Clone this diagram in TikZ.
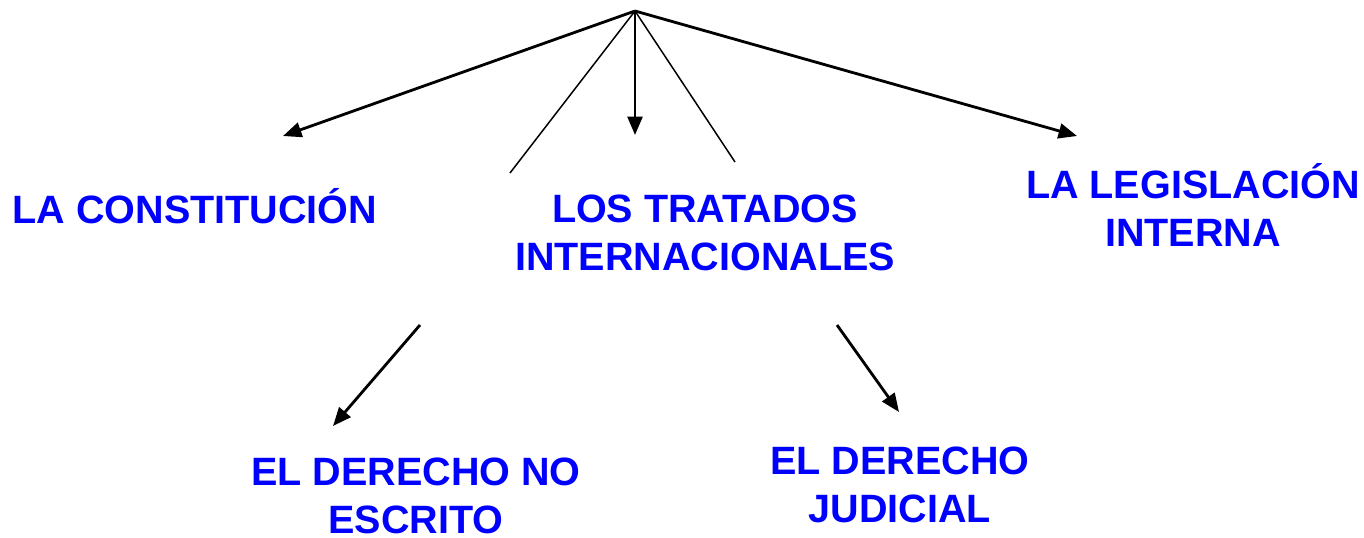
\documentclass[tikz,border=0pt]{standalone}
\usepackage{fontspec}
\setmainfont{Liberation Sans}
\usepackage{xcolor}
\usetikzlibrary{arrows.meta}
\definecolor{blue}{rgb}{0,0,1}

\begin{document}
\begin{tikzpicture}[x=0.02cm, y=-0.02cm,
  term/.style={text=blue, font=\fontsize{22.5}{27.3}\selectfont\bfseries, align=center, anchor=base, inner sep=0pt},
  arrow/.style={line width=1.6pt, -{Triangle[length=10.5pt, width=8.5pt]}},
  thin/.style={line width=0.85pt}]
%		\draw[help lines] (0,0) grid (1364,537);
\useasboundingbox (0,0) rectangle (1364,537);
\coordinate (top) at (635,11);
\node[term] (constitucion) at (195,223) {LA CONSTITUCIÓN};
\node[term] (tratados) at (705,270) {LOS TRATADOS\\INTERNACIONALES};
\node[term] (legislacion) at (1193,246) {LA LEGISLACIÓN\\INTERNA};
\node[term] (noescrito) at (416,533) {EL DERECHO NO\\ESCRITO};
\node[term] (judicial) at (900,522) {EL DERECHO\\JUDICIAL};
\coordinate (toconst) at (283,136);
\coordinate (totrat) at (635,135);
\coordinate (tolegis) at (1077,136);
\coordinate (thinleft) at (510,173);
\coordinate (thinright) at (735,162);
\coordinate (fromnoesc) at (420,325);
\coordinate (tonoesc) at (333,426);
\coordinate (fromjud) at (837,325);
\coordinate (tojud) at (899,412);
\draw[arrow] (top) -- (toconst);
\draw[arrow] (top) -- (totrat);
\draw[arrow] (top) -- (tolegis);
\draw[thin] (top) -- (thinleft);
\draw[thin] (top) -- (thinright);
\draw[arrow] (fromnoesc) -- (tonoesc);
\draw[arrow] (fromjud) -- (tojud);
\end{tikzpicture}
\end{document}
